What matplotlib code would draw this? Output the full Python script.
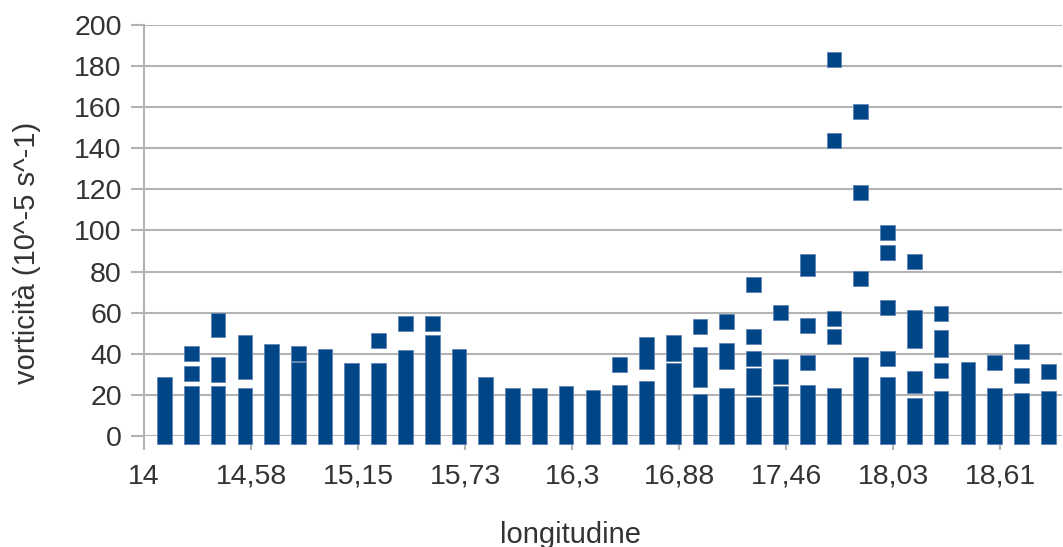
import matplotlib
matplotlib.use("Agg")
import matplotlib.pyplot as plt

# longitudine of each column of points
longitudes = [14.11, 14.254, 14.398, 14.543, 14.687, 14.831, 14.975, 15.119,
              15.264, 15.408, 15.552, 15.696, 15.840, 15.985, 16.129, 16.273,
              16.417, 16.561, 16.706, 16.850, 16.994, 17.138, 17.282, 17.427,
              17.571, 17.715, 17.859, 18.003, 18.148, 18.292, 18.436, 18.580,
              18.724, 18.869]

# continuous run of points from 0 up to this value
base_tops = [24.9, 20.7, 20.7, 19.7, 41.1, 32.3, 38.8, 32.0,
             32.0, 38.2, 45.3, 38.8, 24.9, 19.7, 19.7, 20.7,
             18.7, 21.3, 23.3, 32.0, 17.0, 19.7, 15.5, 20.7,
             21.3, 19.7, 34.6, 25.2, 14.8, 18.1, 32.3, 19.7,
             17.1, 18.1]

# further runs (low, high) above the base, one list per column
upper_runs = [
    [],
    [(30.5, 30.5), (40.0, 40.0)],
    [(30.0, 34.6), (52.0, 56.0)],
    [(31.5, 45.3)],
    [],
    [(40.0, 40.0)],
    [],
    [],
    [(46.4, 46.4)],
    [(54.8, 54.8)],
    [(54.8, 54.8)],
    [],
    [],
    [],
    [],
    [],
    [],
    [(34.9, 34.9)],
    [(36.1, 44.4)],
    [(40.3, 45.3)],
    [(27.3, 39.8), (53.4, 53.4)],
    [(36.1, 41.7), (55.6, 55.6)],
    [(23.7, 29.4), (37.5, 37.5), (48.5, 48.5), (73.6, 73.6)],
    [(29.0, 33.7), (59.9, 59.9)],
    [(35.7, 35.7), (53.9, 53.9), (81.5, 84.9)],
    [(48.2, 48.2), (57.4, 57.4), (143.7, 143.7), (183.3, 183.3)],
    [(76.7, 76.7), (118.6, 118.6), (157.7, 157.7)],
    [(37.6, 37.6), (62.6, 62.6), (89.4, 89.4), (98.8, 98.8)],
    [(24.7, 27.8), (46.5, 57.7), (85.0, 85.0)],
    [(32.0, 32.0), (42.0, 47.9), (59.7, 59.7)],
    [],
    [(35.9, 35.9)],
    [(29.5, 29.5), (41.2, 41.2)],
    [(31.5, 31.5)],
]

x_ticks = [14, 14.57625, 15.1525, 15.72875, 16.305, 16.88125, 17.4575, 18.03375, 18.61]
x_tick_labels = ["14", "14,58", "15,15", "15,73", "16,3", "16,88", "17,46", "18,03", "18,61"]
y_ticks = [0, 20, 40, 60, 80, 100, 120, 140, 160, 180, 200]

blue = "#004586"
edge = "#5f83b3"
grid_col = "#b3b3b3"
text_col = "#333333"

# square marker size, expressed in data units of each axis
mark_w = 0.079
mark_h = 7.3

plt.rcParams['font.family'] = ['Liberation Sans', 'DejaVu Sans']

fig = plt.figure(figsize=(10.63, 5.47), dpi=100)
ax = fig.add_axes([144 / 1063, 1 - 436 / 547, 918 / 1063, 411 / 547])

xs, bottoms, heights = [], [], []
for i, x in enumerate(longitudes):
    runs = [(0, base_tops[i])] + upper_runs[i]
    for lo, hi in runs:
        xs.append(x)
        bottoms.append(lo - mark_h / 2)
        heights.append(hi - lo + mark_h)

bars = ax.bar(xs, heights, bottom=bottoms, width=mark_w, color=blue,
              edgecolor=edge, linewidth=0.6, zorder=3)
for b in bars:
    b.set_clip_on(False)

ax.set_xlim(14, 18.943)
ax.set_ylim(0, 200)
ax.set_xticks(x_ticks)
ax.set_xticklabels(x_tick_labels)
ax.set_yticks(y_ticks)

ax.set_axisbelow(True)
ax.yaxis.grid(True, color=grid_col, lw=1.5)
for side in ['top', 'right', 'bottom']:
    ax.spines[side].set_visible(False)
ax.spines['left'].set_color(grid_col)
ax.spines['left'].set_linewidth(1.5)

ax.tick_params(axis='x', direction='out', length=10, width=1.5, color=grid_col,
               labelsize=20.5, labelcolor=text_col, pad=10)
ax.tick_params(axis='y', direction='out', length=9.5, width=1.5, color=grid_col,
               labelsize=20.5, labelcolor=text_col, pad=6.5)

fig.text(26.7 / 1063, 1 - 253 / 547, "vorticità (10^-5 s^-1)", rotation=90,
         ha='center', va='center', fontsize=21, color=text_col)
fig.text(571 / 1063, 1 - 542.7 / 547, "longitudine", ha='center', va='baseline',
         fontsize=21, color=text_col)

fig.savefig("out.png", dpi=100)
